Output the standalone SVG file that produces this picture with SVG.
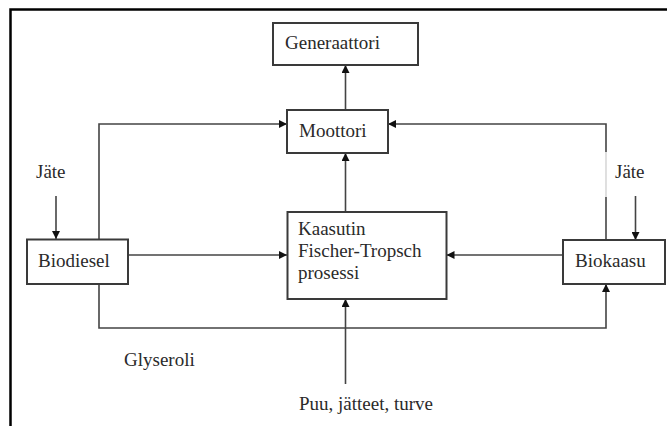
<svg xmlns="http://www.w3.org/2000/svg" width="667" height="426" viewBox="0 0 667 426">
  <style>
    .box { fill: #ffffff; stroke: #3a3a3a; stroke-width: 2; }
    .lbl { font-family: "Liberation Serif", "DejaVu Serif", serif; font-size: 19px; fill: #2a2a2a; }
    .wire { fill: none; stroke: #444444; stroke-width: 1.6; }
    .wire.faint { stroke: #d8d8d8; }
    .arrow { marker-end: url(#head); }
    .frame { fill: none; stroke: #000000; stroke-width: 2.5; }
  </style>
  <defs>
    <marker id="head" viewBox="0 0 10 10" refX="10" refY="5" markerWidth="9" markerHeight="8" markerUnits="userSpaceOnUse" orient="auto">
      <path d="M0,0 L10,5 L0,10 Z" fill="#111111"/>
    </marker>
  </defs>

  <rect width="667" height="426" fill="#ffffff"/>
  <!-- page frame: top and left edges -->
  <path class="frame" d="M10.5,426 V9.5 H667"/>

  <g id="connectors">
    <!-- Moottori -> Generaattori -->
    <line class="wire arrow" x1="345.5" y1="110" x2="345.5" y2="65"/>
    <!-- Kaasutin -> Moottori -->
    <line class="wire arrow" x1="345.5" y1="212" x2="345.5" y2="153"/>
    <!-- Biodiesel -> Moottori -->
    <polyline class="wire arrow" points="99,239 99,124 287,124"/>
    <!-- Biokaasu -> Moottori -->
    <line class="wire" x1="606" y1="240" x2="606" y2="197"/>
    <line class="wire faint" x1="606" y1="197" x2="606" y2="152"/>
    <polyline class="wire arrow" points="606,152 606,124 388,124"/>
    <!-- Biodiesel -> Kaasutin -->
    <line class="wire arrow" x1="128" y1="255" x2="287" y2="255"/>
    <!-- Biokaasu -> Kaasutin -->
    <line class="wire arrow" x1="563" y1="255" x2="446.5" y2="255"/>
    <!-- Biodiesel -> Biokaasu (glyseroli) -->
    <polyline class="wire arrow" points="99,284 99,328 606,328 606,284"/>
    <!-- Jäte inputs -->
    <line class="wire arrow" x1="56" y1="196" x2="56" y2="239"/>
    <line class="wire arrow" x1="635.5" y1="196" x2="635.5" y2="240"/>
    <!-- Puu, jätteet, turve -> Kaasutin -->
    <line class="wire arrow" x1="345.5" y1="384" x2="345.5" y2="299"/>
  </g>

  <g id="generaattori">
    <rect class="box" x="273" y="23" width="145" height="42"/>
    <text class="lbl" x="285" y="49">Generaattori</text>
  </g>

  <g id="moottori">
    <rect class="box" x="287" y="110" width="101" height="43"/>
    <text class="lbl" x="299" y="137">Moottori</text>
  </g>

  <g id="kaasutin">
    <rect class="box" x="287.5" y="212" width="159" height="87"/>
    <text class="lbl" x="298" y="235">Kaasutin</text>
    <text class="lbl" x="298" y="257">Fischer-Tropsch</text>
    <text class="lbl" x="298" y="279">prosessi</text>
  </g>

  <g id="biodiesel">
    <rect class="box" x="27" y="239.5" width="101" height="44.5"/>
    <text class="lbl" x="38" y="267">Biodiesel</text>
  </g>

  <g id="biokaasu">
    <rect class="box" x="563" y="240" width="102" height="44"/>
    <text class="lbl" x="575" y="267">Biokaasu</text>
  </g>

  <g id="labels">
    <text class="lbl" x="36" y="178">Jäte</text>
    <text class="lbl" x="615" y="178">Jäte</text>
    <text class="lbl" x="124" y="366">Glyseroli</text>
    <text class="lbl" x="299" y="410">Puu, jätteet, turve</text>
  </g>
</svg>
